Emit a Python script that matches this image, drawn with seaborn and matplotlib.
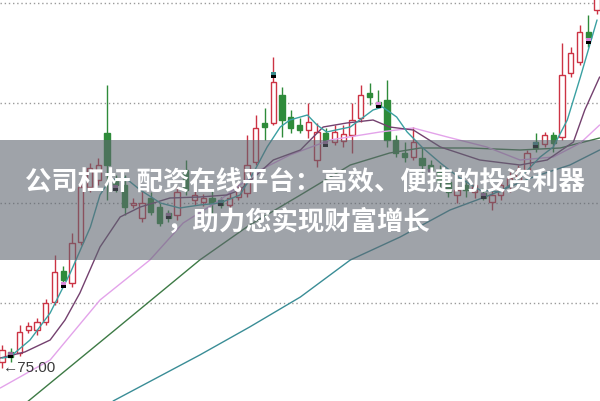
import matplotlib
matplotlib.use("Agg")
import matplotlib.pyplot as plt
from matplotlib.patches import Rectangle
import seaborn as sns
import pandas as pd

# daily candles (price units), one per trading day
opens = [75.6, 76.6, 76.5, 78.8, 78.8, 79.6, 81.6, 84.7, 83.5, 87.6,
         93.1, 93.8, 98.5, 93.8, 93.3, 91.3, 90.0, 92.0, 91.1, 90.5,
         90.3, 94.8, 91.8, 91.6, 92.0, 91.8, 91.3, 92.1, 92.5, 95.6,
         99.5, 99.5, 102.3, 100.1, 99.3, 98.8, 95.8, 98.5, 97.6, 97.7,
         98.3, 100.0, 102.5, 101.6, 101.8, 97.8, 96.5, 96.1, 96.0, 95.3,
         94.8, 93.6, 92.3, 93.3, 92.6, 92.5, 91.6, 92.3, 93.2, 93.8,
         94.8, 97.6, 97.4, 98.3, 98.1, 104.5, 105.6, 108.6, 110.8]
highs = [77.3, 77.0, 79.3, 79.6, 80.0, 81.9, 86.3, 85.2, 88.5, 93.6,
         95.5, 96.0, 103.3, 94.3, 94.3, 92.0, 92.8, 92.6, 91.5, 90.8,
         93.1, 95.8, 92.8, 92.4, 92.8, 92.1, 92.5, 93.5, 98.3, 100.3,
         101.0, 106.1, 103.1, 100.8, 100.0, 101.5, 99.5, 99.0, 99.3, 99.3,
         101.5, 103.3, 103.5, 102.8, 103.8, 98.3, 97.6, 99.1, 97.1, 95.8,
         95.3, 94.0, 93.3, 93.8, 93.8, 93.0, 93.1, 93.8, 94.6, 95.3,
         96.8, 98.5, 98.6, 98.6, 107.5, 107.1, 109.3, 110.3, 113.3]
lows = [75.0, 75.6, 76.2, 78.5, 78.3, 79.3, 81.3, 83.4, 83.1, 87.3,
        92.6, 93.3, 91.8, 92.6, 90.3, 91.0, 89.6, 90.3, 89.2, 89.6,
        89.8, 92.3, 91.3, 91.2, 90.5, 91.0, 91.0, 91.8, 92.1, 95.3,
        97.8, 99.3, 98.1, 98.5, 98.5, 98.0, 95.1, 97.3, 97.3, 97.1,
        96.5, 99.6, 101.3, 101.0, 97.1, 96.1, 95.6, 95.8, 94.6, 94.3,
        92.8, 92.1, 91.5, 92.1, 92.0, 91.8, 90.8, 91.8, 92.6, 93.3,
        94.5, 96.6, 97.1, 96.6, 97.8, 104.1, 105.3, 107.1, 110.4]
closes = [76.8, 76.1, 78.6, 79.2, 79.6, 81.5, 84.6, 83.8, 87.5, 93.1,
          95.0, 95.3, 95.3, 93.3, 91.1, 91.5, 91.5, 90.6, 89.5, 90.0,
          92.6, 92.8, 92.3, 92.0, 91.5, 91.3, 92.0, 93.1, 95.3, 99.0,
          99.1, 103.6, 99.8, 99.0, 98.8, 99.6, 98.6, 97.8, 98.6, 98.4,
          99.8, 102.3, 102.1, 101.2, 97.8, 96.5, 96.1, 97.6, 95.3, 94.8,
          93.6, 92.6, 92.8, 92.8, 93.3, 92.0, 92.3, 93.3, 94.0, 94.8,
          96.5, 97.0, 98.3, 97.5, 104.3, 106.5, 108.6, 108.0, 112.3]

# moving average curves (day index, price)
ma5_x = [0, 0.9, 3.2, 5.5, 7.8, 10.1, 11.2, 12.3, 14.1, 15.8, 18.1, 20.3, 22.6,
         24.9, 27.2, 28.9, 30.3, 31.8, 32.9, 34.9, 36.0, 37.1, 39.8, 42.4, 43.5,
         45.1, 46.3, 48.1, 50.1, 52.3, 54.6, 56.9, 59.2, 61.5, 63.0, 64.6, 66.1, 68.0]
ma5_y = [76.0, 76.1, 77.8, 80.5, 84.5, 89.1, 92.3, 93.8, 94.0, 92.8, 91.5, 91.0, 91.3,
         91.5, 92.3, 94.8, 97.1, 99.1, 99.8, 100.3, 99.3, 98.6, 99.1, 100.8, 101.1,
         100.1, 98.6, 97.0, 95.5, 94.0, 92.8, 92.6, 94.0, 96.1, 97.1, 99.8, 104.1, 109.8]
ma10_x = [-0.2, 2.6, 5.5, 7.2, 8.9, 11.2, 13.5, 15.8, 19.2, 22.6, 25.7, 27.2, 31.0,
          34.1, 36.7, 39.4, 42.4, 44.3, 47.0, 50.1, 54.6, 59.2, 62.3, 65.3, 66.6, 68.3]
ma10_y = [76.0, 76.6, 77.8, 79.8, 82.5, 87.1, 90.1, 91.1, 92.0, 92.1, 92.3, 92.8, 95.8,
          96.8, 99.1, 99.5, 99.8, 99.1, 98.8, 97.1, 95.8, 95.3, 95.8, 97.6, 100.8, 104.1]
ma20_x = [-0.2, 5.5, 11.2, 16.9, 20.7, 24.9, 29.5, 32.9, 37.5, 43.2, 47.0, 50.9,
          55.4, 59.2, 63.0, 66.1, 68.3]
ma20_y = [73.0, 75.8, 81.8, 85.8, 89.5, 91.8, 94.8, 96.3, 97.8, 98.6, 99.0, 98.1,
          97.1, 95.8, 96.1, 97.5, 99.3]
ma60_x = [2.6, 12.9, 22.6, 28.3, 34.1, 39.8, 44.3, 47.8, 53.5, 59.2, 63.8, 68.3]
ma60_y = [71.4, 78.8, 85.8, 89.3, 92.3, 95.3, 96.5, 97.0, 97.0, 96.8, 97.0, 98.0]
ma120_x = [12.7, 22.6, 28.3, 34.1, 39.8, 45.5, 51.2, 55.8, 60.7, 64.9, 68.3]
ma120_y = [71.7, 76.3, 79.1, 82.1, 85.8, 88.1, 90.8, 92.3, 94.1, 95.3, 96.8]

# small weekly markers
marker_idx = [1, 7, 13, 19, 25, 31, 37, 43, 49, 55, 61, 67]
marker_price = [76.3, 83.3, 93.0, 90.2, 91.5, 104.3, 97.4, 101.3, 94.6, 92.2, 97.3, 107.7]
marker_top = ['#9a6a9a', '#d98ad9', '#9a6a9a', '#9a6a9a', '#3a8a8a', '#3a8a8a',
              '#9a6a9a', '#d98ad9', '#9a6a9a', '#9a6a9a', '#3a8a8a', '#d98ad9']

grid_levels = [111.5, 101.5, 91.5, 81.5]
low_label = "75.00"
title_lines = ["公司杠杆 配资在线平台：高效、便捷的投资利器", "，助力您实现财富增长"]

sns.set_theme(style="white")
plt.rcParams['font.family'] = ['Noto Sans CJK SC', 'DejaVu Sans']

RED = '#cc3344'
GREEN = '#2e8b3a'

df = pd.DataFrame({"open": opens, "high": highs, "low": lows, "close": closes})
df["day"] = range(len(df))
up = df[df["close"] >= df["open"]]
down = df[df["close"] < df["open"]]

fig = plt.figure(figsize=(6, 4.01), dpi=100)
ax = fig.add_axes([0, 0, 1, 1])

for lvl in grid_levels:
    ax.axhline(lvl, color='#9a9a9a', lw=1, linestyle=(0, (1, 2)), zorder=1)

# wicks
ax.vlines(up["day"], up["low"], up["high"], color=RED, lw=1, zorder=2)
ax.vlines(down["day"], down["low"], down["high"], color=GREEN, lw=1, zorder=2)
# bodies
ax.bar(up["day"], up["close"] - up["open"], bottom=up["open"], width=0.58,
       facecolor='white', edgecolor=RED, linewidth=1, zorder=3)
ax.bar(down["day"], down["open"] - down["close"], bottom=down["close"], width=0.58,
       facecolor=GREEN, edgecolor=GREEN, linewidth=1, zorder=3)

# moving averages
ma_sets = [(ma120_x, ma120_y, '#3a8d96'), (ma60_x, ma60_y, '#3d7a45'),
           (ma20_x, ma20_y, '#e3a3ea'), (ma10_x, ma10_y, '#74416f'),
           (ma5_x, ma5_y, '#3aa0a2')]
for xs, ys, col in ma_sets:
    sns.lineplot(x=xs, y=ys, ax=ax, color=col, linewidth=1, estimator=None,
                 sort=False, zorder=4)

# markers: colored top half, black bottom half
for i, p, c in zip(marker_idx, marker_price, marker_top):
    ax.bar(i, 0.3, bottom=p, width=0.6, color=c, linewidth=0, zorder=5)
    ax.bar(i, 0.28, bottom=p - 0.28, width=0.6, color='black', linewidth=0, zorder=5)

ax.text(0.1, 75.0, "←" + low_label, ha='left', va='center', fontsize=11,
        color='#3a3a3a', family=['Liberation Sans', 'DejaVu Sans'], zorder=6)

ax.set_xlim(-0.23, 68.34)
ax.set_ylim(71.7, 111.8)
ax.axis('off')

# translucent banner with headline
fig.add_artist(Rectangle((0, 1 - 260 / 401), 1, 120 / 401, transform=fig.transFigure,
                         facecolor='#5f6670', alpha=0.6, linewidth=0, zorder=10))
fig.text(0.508, 1 - 183 / 401, title_lines[0], ha='center', va='center', fontsize=19,
         fontweight='bold', color='white', zorder=11)
fig.text(0.497, 1 - 222 / 401, title_lines[1], ha='center', va='center', fontsize=19,
         fontweight='bold', color='white', zorder=11)

fig.savefig("out.png", dpi=100)
